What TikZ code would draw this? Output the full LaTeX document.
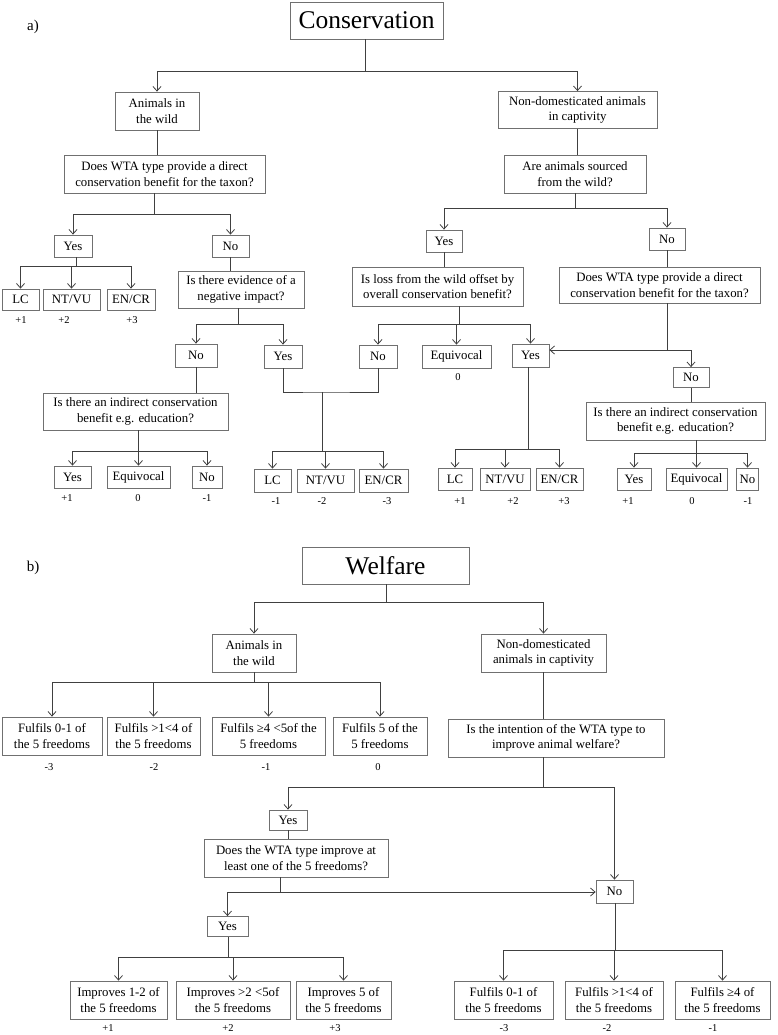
\documentclass[tikz,border=0pt]{standalone}
\usepackage{fontspec}
\setmainfont{Liberation Serif}
\usetikzlibrary{arrows.meta, calc}
\definecolor{linegray}{RGB}{64, 64, 64}
\definecolor{boxgray}{RGB}{112, 112, 112}

\begin{document}
\begin{tikzpicture}[x=1pt, y=-1pt,
    box/.style={draw=boxgray, line width=0.8pt, inner sep=0pt, align=center, font=\fontsize{12.8}{15.5}\selectfont},
    title/.style={draw=boxgray, line width=0.8pt, inner sep=0pt, font=\fontsize{25.5}{30}\selectfont},
    score/.style={inner sep=0pt, font=\fontsize{10.5}{12}\selectfont},
    panel/.style={inner sep=0pt, font=\fontsize{15}{18}\selectfont},
    link/.style={draw=linegray, line width=0.8pt},
    arr/.style={link, -{Straight Barb[length=4.5pt,width=8pt]}}]
    \useasboundingbox (0,0) rectangle (777,1035);

    % ---------------- a) Conservation ----------------
    \node[panel] (lbla) at (33,27) {a)};
    \node[title, minimum width=153pt, minimum height=37pt] (cons) at (366.5,20.5) {Conservation};

    \node[box, minimum width=84pt, minimum height=38pt] (cwild) at (157,111) {Animals in\\the wild};
    \node[box, minimum width=159pt, minimum height=37pt] (ccapt) at (577.5,110) {Non-domesticated animals\\in captivity};
    \node[box, minimum width=201pt, minimum height=38pt] (cq1) at (164.5,174) {Does WTA type provide a direct\\conservation benefit for the taxon?};
    \node[box, minimum width=142pt, minimum height=38pt] (cq2) at (575,174) {Are animals sourced\\from the wild?};

    \node[box, minimum width=38pt, minimum height=22pt] (cyes1) at (73,246) {Yes};
    \node[box, minimum width=37pt, minimum height=22pt] (cno1) at (230.5,246) {No};
    \node[box, minimum width=36pt, minimum height=22pt] (cyes2) at (444,241) {Yes};
    \node[box, minimum width=36pt, minimum height=22pt] (cno2) at (667,239) {No};

    % first level outcomes (wild, direct benefit)
    \node[box, minimum width=37pt, minimum height=21pt] (clc1) at (20.5,299.5) {LC};
    \node[box, minimum width=57pt, minimum height=21pt] (cnt1) at (71.5,299.5) {NT/VU};
    \node[box, minimum width=48pt, minimum height=21pt] (cen1) at (131,299.5) {EN/CR};
    \node[score] (sc1) at (21,320) {+1};
    \node[score] (sc2) at (64,320) {+2};
    \node[score] (sc3) at (132,320) {+3};

    \node[box, minimum width=126pt, minimum height=37pt] (cq3) at (241,289.5) {Is there evidence of a\\negative impact?};
    \node[box, minimum width=171pt, minimum height=39pt] (cq4) at (437.5,286.5) {Is loss from the wild offset by\\overall conservation benefit?};
    \node[box, minimum width=201pt, minimum height=36pt] (cq5) at (659.5,285) {Does WTA type provide a direct\\conservation benefit for the taxon?};

    \node[box, minimum width=42pt, minimum height=23pt] (cno3) at (196,355.5) {No};
    \node[box, minimum width=38pt, minimum height=23pt] (cyes3) at (283,356.5) {Yes};
    \node[box, minimum width=38pt, minimum height=23pt] (cno4) at (378,356.5) {No};
    \node[box, minimum width=69pt, minimum height=23pt] (ceq1) at (456.5,356.5) {Equivocal};
    \node[score] (sc4) at (458,377) {0};
    \node[box, minimum width=37pt, minimum height=23pt] (cyes4) at (530.5,355.5) {Yes};
    \node[box, minimum width=36pt, minimum height=20pt] (cno5) at (691,377.5) {No};

    \node[box, minimum width=185pt, minimum height=37pt] (cq6) at (135.5,411.5) {Is there an indirect conservation\\benefit e.g. education?};
    \node[box, minimum width=179pt, minimum height=38pt] (cq7) at (675.5,421) {Is there an indirect conservation\\benefit e.g. education?};

    % bottom row of panel a
    \node[box, minimum width=37pt, minimum height=22pt] (cyes5) at (72.5,477) {Yes};
    \node[box, minimum width=63pt, minimum height=22pt] (ceq2) at (138.5,477) {Equivocal};
    \node[box, minimum width=30pt, minimum height=22pt] (cno6) at (207,477) {No};
    \node[score] (sc5) at (67,498) {+1};
    \node[score] (sc6) at (138,498) {0};
    \node[score] (sc7) at (207,498) {-1};

    \node[box, minimum width=37pt, minimum height=23pt] (clc2) at (272.5,480.5) {LC};
    \node[box, minimum width=57pt, minimum height=23pt] (cnt2) at (325.5,480.5) {NT/VU};
    \node[box, minimum width=49pt, minimum height=23pt] (cen2) at (383.5,480.5) {EN/CR};
    \node[score] (sc8) at (276,501) {-1};
    \node[score] (sc9) at (322,501) {-2};
    \node[score] (sc10) at (387,501) {-3};

    \node[box, minimum width=34pt, minimum height=22pt] (clc3) at (455,479) {LC};
    \node[box, minimum width=50pt, minimum height=22pt] (cnt3) at (505,479) {NT/VU};
    \node[box, minimum width=47pt, minimum height=22pt] (cen3) at (559.5,479) {EN/CR};
    \node[score] (sc11) at (460,501) {+1};
    \node[score] (sc12) at (513,501) {+2};
    \node[score] (sc13) at (564,501) {+3};

    \node[box, minimum width=34pt, minimum height=22pt] (cyes6) at (634,479) {Yes};
    \node[box, minimum width=61pt, minimum height=22pt] (ceq3) at (696.5,479) {Equivocal};
    \node[box, minimum width=22pt, minimum height=22pt] (cno7) at (747.5,479) {No};
    \node[score] (sc14) at (628,501) {+1};
    \node[score] (sc15) at (692,501) {0};
    \node[score] (sc16) at (748,501) {-1};

    % junctions of panel a
    \coordinate (cf0) at (365,71);
    \coordinate (cf1) at (154,214);
    \coordinate (cf2) at (575,208);
    \coordinate (cf3) at (76,266);
    \coordinate (cf4) at (238,324);
    \coordinate (cf5) at (459,324);
    \coordinate (cf6) at (667,350);
    \coordinate (cf7) at (138,451);
    \coordinate (cm1) at (322,392);
    \coordinate (cf8) at (322,451);
    \coordinate (cf9) at (528,449);
    \coordinate (cf10) at (696,453);

    \draw[link] (cf0 |- cons.south) -- (cf0);
    \draw[arr] (cf0) -| (cwild);
    \draw[arr] (cf0) -| (ccapt);
    \draw[link] (cwild) -- (cwild |- cq1.north);
    \draw[link] (ccapt) -- (ccapt |- cq2.north);

    \draw[link] (cf1 |- cq1.south) -- (cf1);
    \draw[arr] (cf1) -| (cyes1);
    \draw[arr] (cf1) -| (cno1);
    \draw[link] (cf2 |- cq2.south) -- (cf2);
    \draw[arr] (cf2) -| (cyes2);
    \draw[arr] (cf2) -| (cno2);

    \draw[link] (cf3 |- cyes1.south) -- (cf3);
    \draw[arr] (cf3) -| (clc1);
    \draw[arr] (cf3) -| (cnt1);
    \draw[arr] (cf3) -| (cen1);

    \draw[link] (cno1) -- (cno1 |- cq3.north);
    \draw[link] (cyes2) -- (cyes2 |- cq4.north);
    \draw[link] (cno2) -- (cno2 |- cq5.north);

    \draw[link] (cf4 |- cq3.south) -- (cf4);
    \draw[arr] (cf4) -| (cno3);
    \draw[arr] (cf4) -| (cyes3);
    \draw[link] (cf5 |- cq4.south) -- (cf5);
    \draw[arr] (cf5) -| (cno4);
    \draw[arr] (cf5) -| (ceq1);
    \draw[arr] (cf5) -| (cyes4);
    \draw[link] (cf6 |- cq5.south) -- (cf6);
    \draw[arr] (cf6) -- (cyes4.east |- cf6);
    \draw[arr] (cf6) -| (cno5);

    \draw[link] (cno3) -- (cno3 |- cq6.north);
    \draw[link] (cf7 |- cq6.south) -- (cf7);
    \draw[arr] (cf7) -| (cyes5);
    \draw[arr] (cf7) -| (ceq2);
    \draw[arr] (cf7) -| (cno6);

    \draw[link] (cyes3) |- (cm1) -| (cno4);
    \draw[link] (cm1) -- (cf8);
    \draw[arr] (cf8) -| (clc2);
    \draw[arr] (cf8) -| (cnt2);
    \draw[arr] (cf8) -| (cen2);

    \draw[link] (cf9 |- cyes4.south) -- (cf9);
    \draw[arr] (cf9) -| (clc3);
    \draw[arr] (cf9) -| (cnt3);
    \draw[arr] (cf9) -| (cen3);

    \draw[link] (cno5) -- (cno5 |- cq7.north);
    \draw[link] (cf10 |- cq7.south) -- (cf10);
    \draw[arr] (cf10) -| (cyes6);
    \draw[arr] (cf10) -| (ceq3);
    \draw[arr] (cf10) -| (cno7);

    % ---------------- b) Welfare ----------------
    \node[panel] (lblb) at (33,568) {b)};
    \node[title, minimum width=167pt, minimum height=37pt] (welf) at (385.5,565.5) {Welfare};

    \node[box, minimum width=84pt, minimum height=38pt] (wwild) at (254,653) {Animals in\\the wild};
    \node[box, minimum width=125pt, minimum height=38pt] (wcapt) at (543.5,653) {Non-domesticated\\animals in captivity};

    \node[box, minimum width=100pt, minimum height=38pt] (wful1) at (52,736) {Fulfils 0-1 of\\the 5 freedoms};
    \node[box, minimum width=93pt, minimum height=38pt] (wful2) at (153.5,736) {Fulfils >1<4 of\\the 5 freedoms};
    \node[box, minimum width=113pt, minimum height=38pt] (wful3) at (268.5,736) {Fulfils ≥4 <5of the\\5 freedoms};
    \node[box, minimum width=94pt, minimum height=38pt] (wful4) at (380,736) {Fulfils 5 of the\\5 freedoms};
    \node[score] (ws1) at (49,767) {-3};
    \node[score] (ws2) at (154,767) {-2};
    \node[score] (ws3) at (266,767) {-1};
    \node[score] (ws4) at (378,767) {0};

    \node[box, minimum width=216pt, minimum height=38pt] (wq1) at (556,738) {Is the intention of the WTA type to\\improve animal welfare?};
    \node[box, minimum width=38pt, minimum height=20pt] (wyes1) at (288,820) {Yes};
    \node[box, minimum width=184pt, minimum height=38pt] (wq2) at (296,858) {Does the WTA type improve at\\least one of the 5 freedoms?};
    \node[box, minimum width=37pt, minimum height=23pt] (wno1) at (614.5,891.5) {No};
    \node[box, minimum width=41pt, minimum height=20pt] (wyes2) at (227.5,926.5) {Yes};

    \node[box, minimum width=97pt, minimum height=38pt] (wimp1) at (118.5,1000) {Improves 1-2 of\\the 5 freedoms};
    \node[box, minimum width=114pt, minimum height=38pt] (wimp2) at (233,1000) {Improves >2 <5of\\the 5 freedoms};
    \node[box, minimum width=95pt, minimum height=38pt] (wimp3) at (343.5,1000) {Improves 5 of\\the 5 freedoms};
    \node[score] (ws5) at (108,1028) {+1};
    \node[score] (ws6) at (228,1028) {+2};
    \node[score] (ws7) at (335,1028) {+3};

    \node[box, minimum width=99pt, minimum height=38pt] (wful5) at (503.5,1000) {Fulfils 0-1 of\\the 5 freedoms};
    \node[box, minimum width=98pt, minimum height=38pt] (wful6) at (614,1000) {Fulfils >1<4 of\\the 5 freedoms};
    \node[box, minimum width=95pt, minimum height=38pt] (wful7) at (722.5,1000) {Fulfils ≥4 of\\the 5 freedoms};
    \node[score] (ws8) at (504,1028) {-3};
    \node[score] (ws9) at (607,1028) {-2};
    \node[score] (ws10) at (713,1028) {-1};

    % junctions of panel b
    \coordinate (wf0) at (386,602);
    \coordinate (wf1) at (254,682);
    \coordinate (wf2) at (543,787);
    \coordinate (wf3) at (280,892);
    \coordinate (wf4) at (228,957);
    \coordinate (wf5) at (615,950);

    \draw[link] (wf0 |- welf.south) -- (wf0);
    \draw[arr] (wf0) -| (wwild);
    \draw[arr] (wf0) -| (wcapt);

    \draw[link] (wf1 |- wwild.south) -- (wf1);
    \draw[arr] (wf1) -| (wful1);
    \draw[arr] (wf1) -| (wful2);
    \draw[arr] (wf1) -| (wful3);
    \draw[arr] (wf1) -| (wful4);

    \draw[link] (wcapt) -- (wcapt |- wq1.north);
    \draw[link] (wf2 |- wq1.south) -- (wf2);
    \draw[arr] (wf2) -| (wyes1);
    \draw[arr] (wf2) -| (wno1);

    \draw[link] (wyes1) -- (wyes1 |- wq2.north);
    \draw[link] (wf3 |- wq2.south) -- (wf3);
    \draw[arr] (wf3) -| (wyes2);
    \draw[arr] (wf3) -- (wno1.west |- wf3);

    \draw[link] (wf4 |- wyes2.south) -- (wf4);
    \draw[arr] (wf4) -| (wimp1);
    \draw[arr] (wf4) -| (wimp2);
    \draw[arr] (wf4) -| (wimp3);

    \draw[link] (wf5 |- wno1.south) -- (wf5);
    \draw[arr] (wf5) -| (wful5);
    \draw[arr] (wf5) -| (wful6);
    \draw[arr] (wf5) -| (wful7);
\end{tikzpicture}
\end{document}
